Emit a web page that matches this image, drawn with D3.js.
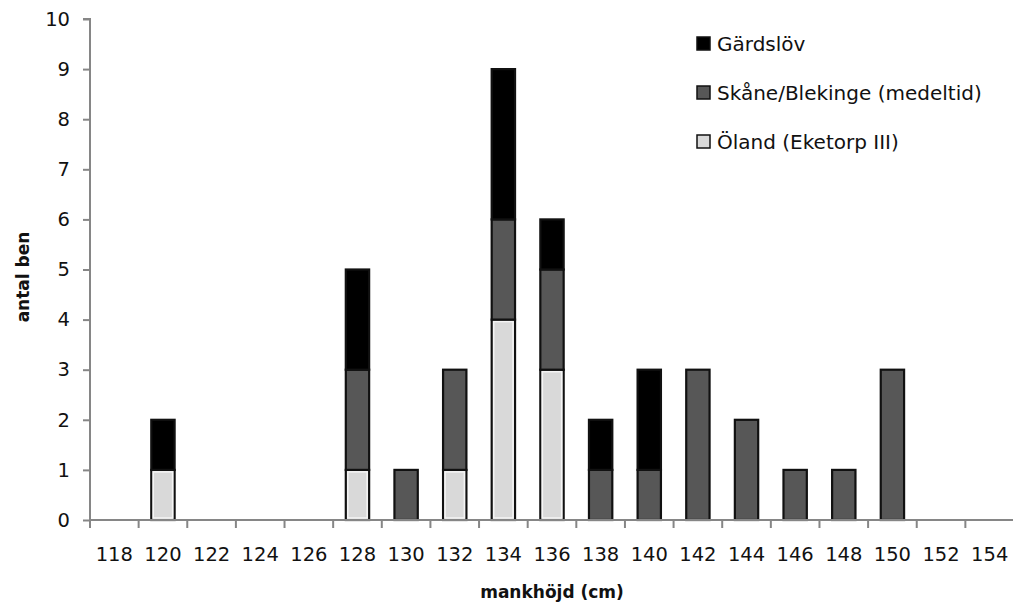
<!DOCTYPE html>
<meta charset="utf-8">
<style>
body { margin: 0; background: #fff; }
text { font-family: "DejaVu Sans", Verdana, sans-serif; fill: #111; }
</style>
<svg width="1013" height="608"></svg>
<script src="https://cdn.jsdelivr.net/npm/d3@7"></script>
<script>

// mankhöjd (cm) categories
var heights = ["118","120","122","124","126","128","130","132","134","136","138","140","142","144","146","148","150","152","154"];
// antal ben per series (bottom to top in stack)
var oland    = [0,1,0,0,0,1,0,1,4,3,0,0,0,0,0,0,0,0,0];
var skane    = [0,0,0,0,0,2,1,2,2,2,1,1,3,2,1,1,3,0,0];
var gardslov = [0,1,0,0,0,2,0,0,3,1,1,2,0,0,0,0,0,0,0];
var seriesNames = ["Öland (Eketorp III)", "Skåne/Blekinge (medeltid)", "Gärdslöv"];
var seriesColors = ["#d9d9d9", "#575757", "#000000"];
var yTicks = [0,1,2,3,4,5,6,7,8,9,10];

var svg = d3.select("svg"),
    margin = {top: 19, right: 0, bottom: 88, left: 90},
    width = 1014 - margin.left,
    height = 520 - margin.top,
    g = svg.append("g").attr("transform", "translate(" + margin.left + "," + margin.top + ")");

var rows = heights.map(function(h, i) {
  return {h: h, s0: oland[i], s1: skane[i], s2: gardslov[i]};
});
var stacked = d3.stack().keys(["s0","s1","s2"])(rows);

var x = d3.scaleBand().domain(heights).range([0, width]).paddingInner(0.52).paddingOuter(0.26);
var xb = d3.scaleBand().domain(heights).range([0, width]);
var y = d3.scaleLinear().domain([0, 10]).range([height, 0]);

// bars
stacked.forEach(function(layer, k) {
  var segs = g.append("g").selectAll("g")
    .data(layer.filter(function(d) { return d[1] > d[0]; }))
    .enter().append("g");
  segs.append("rect")
      .attr("x", function(d) { return x(d.data.h); })
      .attr("y", function(d) { return y(d[1]); })
      .attr("width", x.bandwidth())
      .attr("height", function(d) { return y(d[0]) - y(d[1]); })
      .attr("fill", seriesColors[k])
      .attr("stroke", "#111")
      .attr("stroke-width", 2.2);
  if (k === 0) {
    segs.append("rect")
        .attr("x", function(d) { return x(d.data.h) + 2; })
        .attr("y", function(d) { return y(d[1]) + 2; })
        .attr("width", x.bandwidth() - 4)
        .attr("height", function(d) { return y(d[0]) - y(d[1]) - 4; })
        .attr("fill", "none")
        .attr("stroke", "#f5f5f5")
        .attr("stroke-width", 1.5);
  }
});

// y axis
var yAxis = g.append("g").call(d3.axisLeft(y).tickValues(yTicks).tickSize(7).tickPadding(13));
// x axis with ticks between categories
var xAxis = g.append("g").attr("transform", "translate(0," + height + ")")
  .call(d3.axisBottom(xb).tickSize(0).tickPadding(27));
heights.forEach(function(h, i) {
  g.append("line").attr("class", "xt")
    .attr("x1", xb(h)).attr("x2", xb(h))
    .attr("y1", height).attr("y2", height + 8);
});
g.append("line").attr("class", "xt")
  .attr("x1", width).attr("x2", width).attr("y1", height).attr("y2", height + 8);

g.selectAll(".domain, .tick line, .xt").attr("stroke", "#868686").attr("stroke-width", 2);
yAxis.select(".domain").attr("d", "M-7,0H0V" + height);
xAxis.select(".domain").attr("d", "M0,0H" + width);
g.selectAll(".tick text").style("font-size", "19.5px").attr("fill", "#111");

// axis titles
svg.append("text")
    .attr("transform", "translate(29,277) rotate(-90)")
    .attr("text-anchor", "middle")
    .style("font-size", "17px").style("font-weight", "bold")
    .text("antal ben");
svg.append("text")
    .attr("x", 552).attr("y", 598)
    .attr("text-anchor", "middle")
    .style("font-size", "17px").style("font-weight", "bold")
    .text("mankhöjd (cm)");

// legend (top to bottom: Gärdslöv, Skåne, Öland)
var legend = svg.append("g").selectAll("g")
  .data([2,1,0])
  .enter().append("g")
    .attr("transform", function(d, i) { return "translate(697," + (37 + i * 49) + ")"; });
legend.append("rect")
    .attr("width", 13).attr("height", 13)
    .attr("fill", function(d) { return seriesColors[d]; })
    .attr("stroke", "#111").attr("stroke-width", 1.5);
legend.append("text")
    .attr("x", 20).attr("y", 14)
    .style("font-size", "20px")
    .text(function(d) { return seriesNames[d]; });

</script>
